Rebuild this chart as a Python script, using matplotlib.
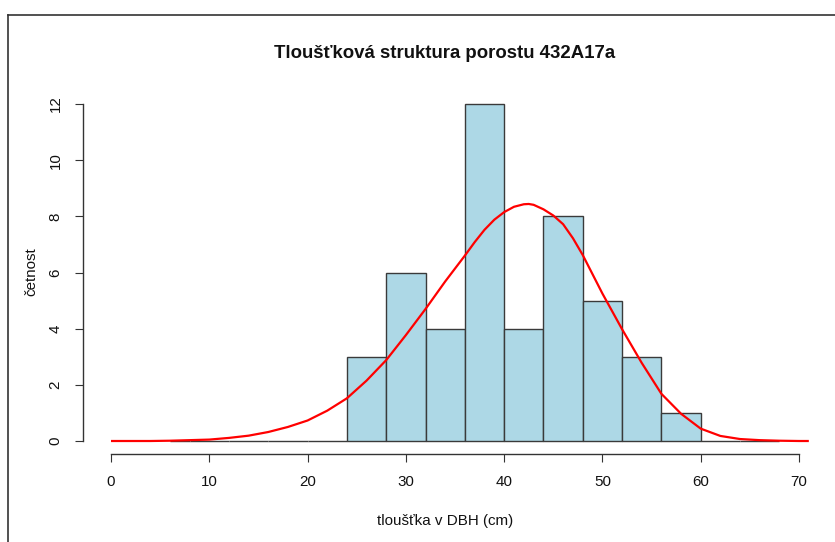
import matplotlib
matplotlib.use("Agg")
import matplotlib.pyplot as plt
from matplotlib.lines import Line2D

plt.rcParams['font.family'] = ['Liberation Sans', 'DejaVu Sans']

# Histogram data (bin edges and counts)
bin_edges = [6, 8, 12, 16, 20, 24, 28, 32, 36, 40, 44, 48, 52, 56, 60, 64, 68]
counts = [0, 0, 0, 0, 0, 3, 6, 4, 12, 4, 8, 5, 3, 1, 0, 0]

# Fitted density curve
curve_x = [0, 2, 4, 6, 8, 10, 12, 14, 16, 18, 20, 22, 24, 26, 28, 30, 32, 34,
           36, 37, 38, 39, 40, 41, 42, 42.5, 43, 44, 45, 46, 47, 48, 50, 52, 54,
           56, 58, 60, 62, 64, 66, 68, 70, 71]
curve_y = [0.0, 0.0, 0.0, 0.01, 0.03, 0.05, 0.11, 0.19, 0.32, 0.50, 0.73, 1.08,
           1.52, 2.15, 2.88, 3.77, 4.70, 5.68, 6.60, 7.08, 7.52, 7.88, 8.15, 8.34,
           8.43, 8.44, 8.41, 8.25, 8.03, 7.72, 7.22, 6.62, 5.25, 3.98, 2.78, 1.68,
           0.97, 0.44, 0.18, 0.07, 0.03, 0.01, 0.0, 0.0]

x_ticks = [0, 10, 20, 30, 40, 50, 60, 70]
y_ticks = [0, 2, 4, 6, 8, 10, 12]

title = "Tloušťková struktura porostu 432A17a"
xlabel = "tloušťka v DBH (cm)"
ylabel = "četnost"

W, H = 835, 542
fig = plt.figure(figsize=(W / 100, H / 100), dpi=100)
fig.patch.set_facecolor('white')

# axes placement in pixels
x0px, x70px = 111, 799
y0px, y12px = 441, 104
ux = (x70px - x0px) / 70.0
uy = (y0px - y12px) / 12.0
xlo, xhi = -2.8, 72.8
ylo, yhi = -0.48, 12.48
left = x0px + xlo * ux
right = x0px + xhi * ux
bottom = y0px - ylo * uy
top = y0px - yhi * uy
ax = fig.add_axes([left / W, 1 - bottom / H, (right - left) / W, (bottom - top) / H])
ax.set_xlim(xlo, xhi)
ax.set_ylim(ylo, yhi)
ax.patch.set_alpha(0)

widths = [bin_edges[i + 1] - bin_edges[i] for i in range(len(counts))]
ax.bar(bin_edges[:-1], counts, width=widths, align='edge', color='#ADD8E6',
       edgecolor='#3a3a3a', linewidth=1.0, zorder=2)
ax.plot(curve_x, curve_y, color='red', linewidth=1.6, zorder=3, solid_capstyle='butt',
        solid_joinstyle='round')

for s in ['top', 'right']:
    ax.spines[s].set_visible(False)
ax.spines['bottom'].set_bounds(0, 70)
ax.spines['left'].set_bounds(0, 12)
for s in ['bottom', 'left']:
    ax.spines[s].set_color('#333333')
    ax.spines[s].set_linewidth(1.0)

fs = 10.9
ax.set_xticks(x_ticks)
ax.set_yticks(y_ticks)
ax.set_xticklabels([str(v) for v in x_ticks])
ax.set_yticklabels([str(v) for v in y_ticks], rotation=90, va='center')
ax.tick_params(axis='both', direction='out', length=5.5, width=0.8, color='#333333',
               labelsize=fs, labelcolor='#111111')
ax.tick_params(axis='x', pad=9.5)
ax.tick_params(axis='y', pad=9.5)

fig.text(445 / W, 1 - 53 / H, title, ha='center', va='center', fontsize=13.4,
         fontweight='bold', color='#111111')
fig.text(445 / W, 1 - 521 / H, xlabel, ha='center', va='center', fontsize=fs, color='#111111')
fig.text(31 / W, 1 - 272 / H, ylabel, ha='center', va='center', fontsize=fs,
         rotation=90, color='#111111')

# outer frame lines (screenshot border)
fig.add_artist(Line2D([8 / W, 1.0], [1 - 14.5 / H, 1 - 14.5 / H], color='#333333',
                      linewidth=1.2, transform=fig.transFigure))
fig.add_artist(Line2D([8 / W, 8 / W], [1 - 14.5 / H, 0.0], color='#333333',
                      linewidth=1.2, transform=fig.transFigure))

fig.savefig('out.png', dpi=100, facecolor='white')
